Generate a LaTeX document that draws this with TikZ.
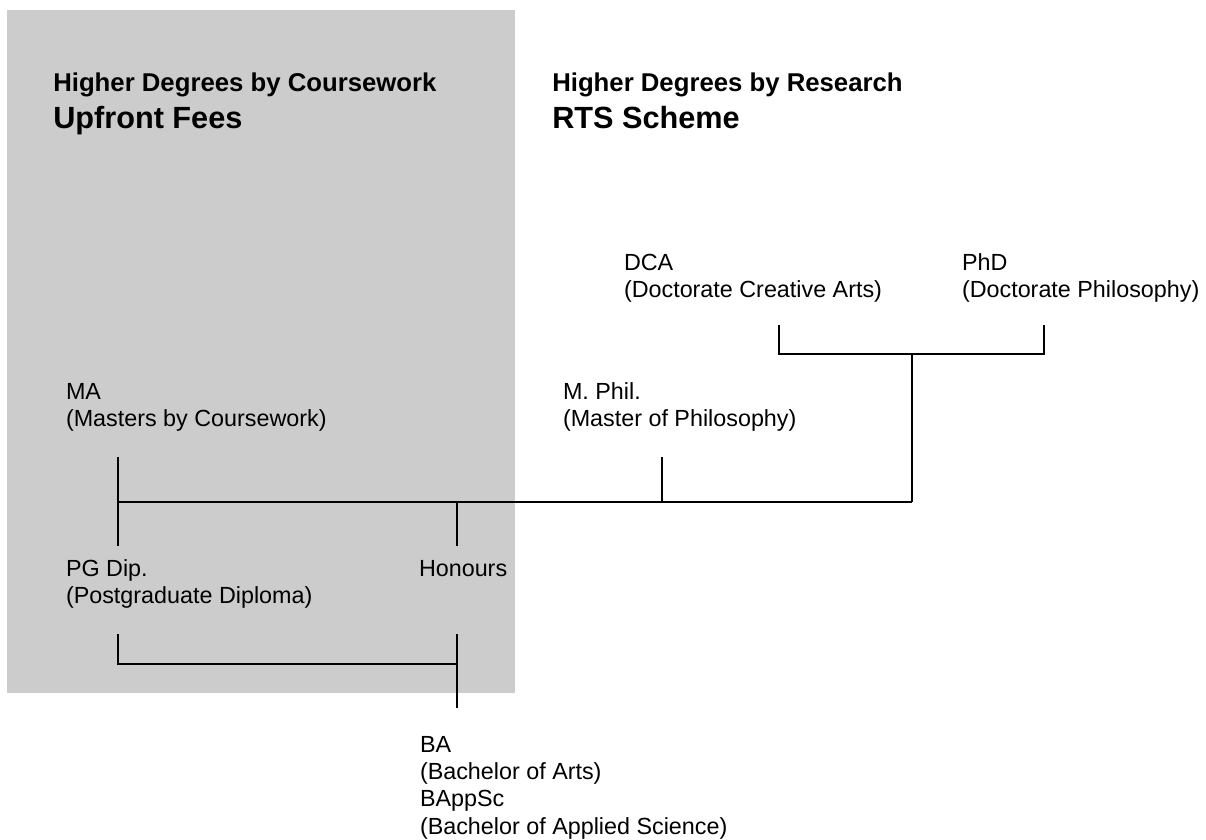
\documentclass[tikz,border=0pt]{standalone}
\usepackage{fontspec}
\setmainfont{Liberation Sans}
\definecolor{panelgray}{HTML}{CCCCCC}
\newcommand{\lbltwo}[2]{\vtop{\baselineskip=20.8pt\hbox{#1}\hbox{#2}}}
\newcommand{\lblfour}[4]{\vtop{\baselineskip=20.6pt\hbox{#1}\hbox{#2}\hbox{#3}\hbox{#4}}}
\begin{document}
\begin{tikzpicture}[x=0.75pt,y=-0.75pt,
  lbl/.style={anchor=base west,inner sep=0pt,outer sep=0pt,font=\fontsize{17.5}{21}\selectfont},
  headsmall/.style={anchor=base west,inner sep=0pt,font=\bfseries\fontsize{19.3}{23}\selectfont},
  headbig/.style={anchor=base west,inner sep=0pt,font=\bfseries\fontsize{23}{27}\selectfont},
  conn/.style={draw=black,line width=1.3pt,line cap=butt,line join=miter}]
\useasboundingbox (0,0) rectangle (1206,839);
\fill[panelgray] (7,10) rectangle (515,693);

% headers
\node[headsmall] (h1) at (53,91) {Higher Degrees by Coursework};
\node[headbig] (h1b) at (53,128) {Upfront Fees};
\node[headsmall] (h2) at (552,91) {Higher Degrees by Research};
\node[headbig] (h2b) at (552,128) {RTS Scheme};

% labels
\node[lbl] (dca) at (624,270) {\lbltwo{DCA}{(Doctorate Creative Arts)}};
\node[lbl] (phd) at (962,270) {\lbltwo{PhD}{(Doctorate Philosophy)}};
\node[lbl] (ma) at (66,399) {\lbltwo{MA}{(Masters by Coursework)}};
\node[lbl] (mphil) at (563,399) {\lbltwo{M. Phil.}{(Master of Philosophy)}};
\node[lbl] (pgdip) at (66,576) {\lbltwo{PG Dip.}{(Postgraduate Diploma)}};
\node[lbl] (hon) at (419,576) {Honours};
\node[lbl] (ba) at (420,752) {\lblfour{BA}{(Bachelor of Arts)}{BAppSc}{(Bachelor of Applied Science)}};

% connector coordinates
\coordinate (dcaB) at (779,325);
\coordinate (phdB) at (1044,325);
\coordinate (dcaJ) at (779,354);
\coordinate (phdJ) at (1044,354);
\coordinate (docJ) at (912,354);
\coordinate (docM) at (912,502);
\coordinate (maT) at (118,457);
\coordinate (maM) at (118,502);
\coordinate (pgT) at (118,546);
\coordinate (honM) at (457,502);
\coordinate (honT) at (457,546);
\coordinate (mpB) at (662,457);
\coordinate (mpM) at (662,502);
\coordinate (pgB) at (118,634);
\coordinate (pgJ) at (118,664);
\coordinate (honB) at (457,634);
\coordinate (honJ) at (457,664);
\coordinate (baT) at (457,708);

% connectors
\draw[conn] (dcaB) -- (dcaJ) -- (phdJ) -- (phdB);
\draw[conn] (docJ) -- (docM);
\draw[conn] (maT) -- (pgT);
\draw[conn] (maM) -- (docM);
\draw[conn] (honM) -- (honT);
\draw[conn] (mpB) -- (mpM);
\draw[conn] (pgB) -- (pgJ) -- (honJ);
\draw[conn] (honB) -- (baT);
\end{tikzpicture}
\end{document}
